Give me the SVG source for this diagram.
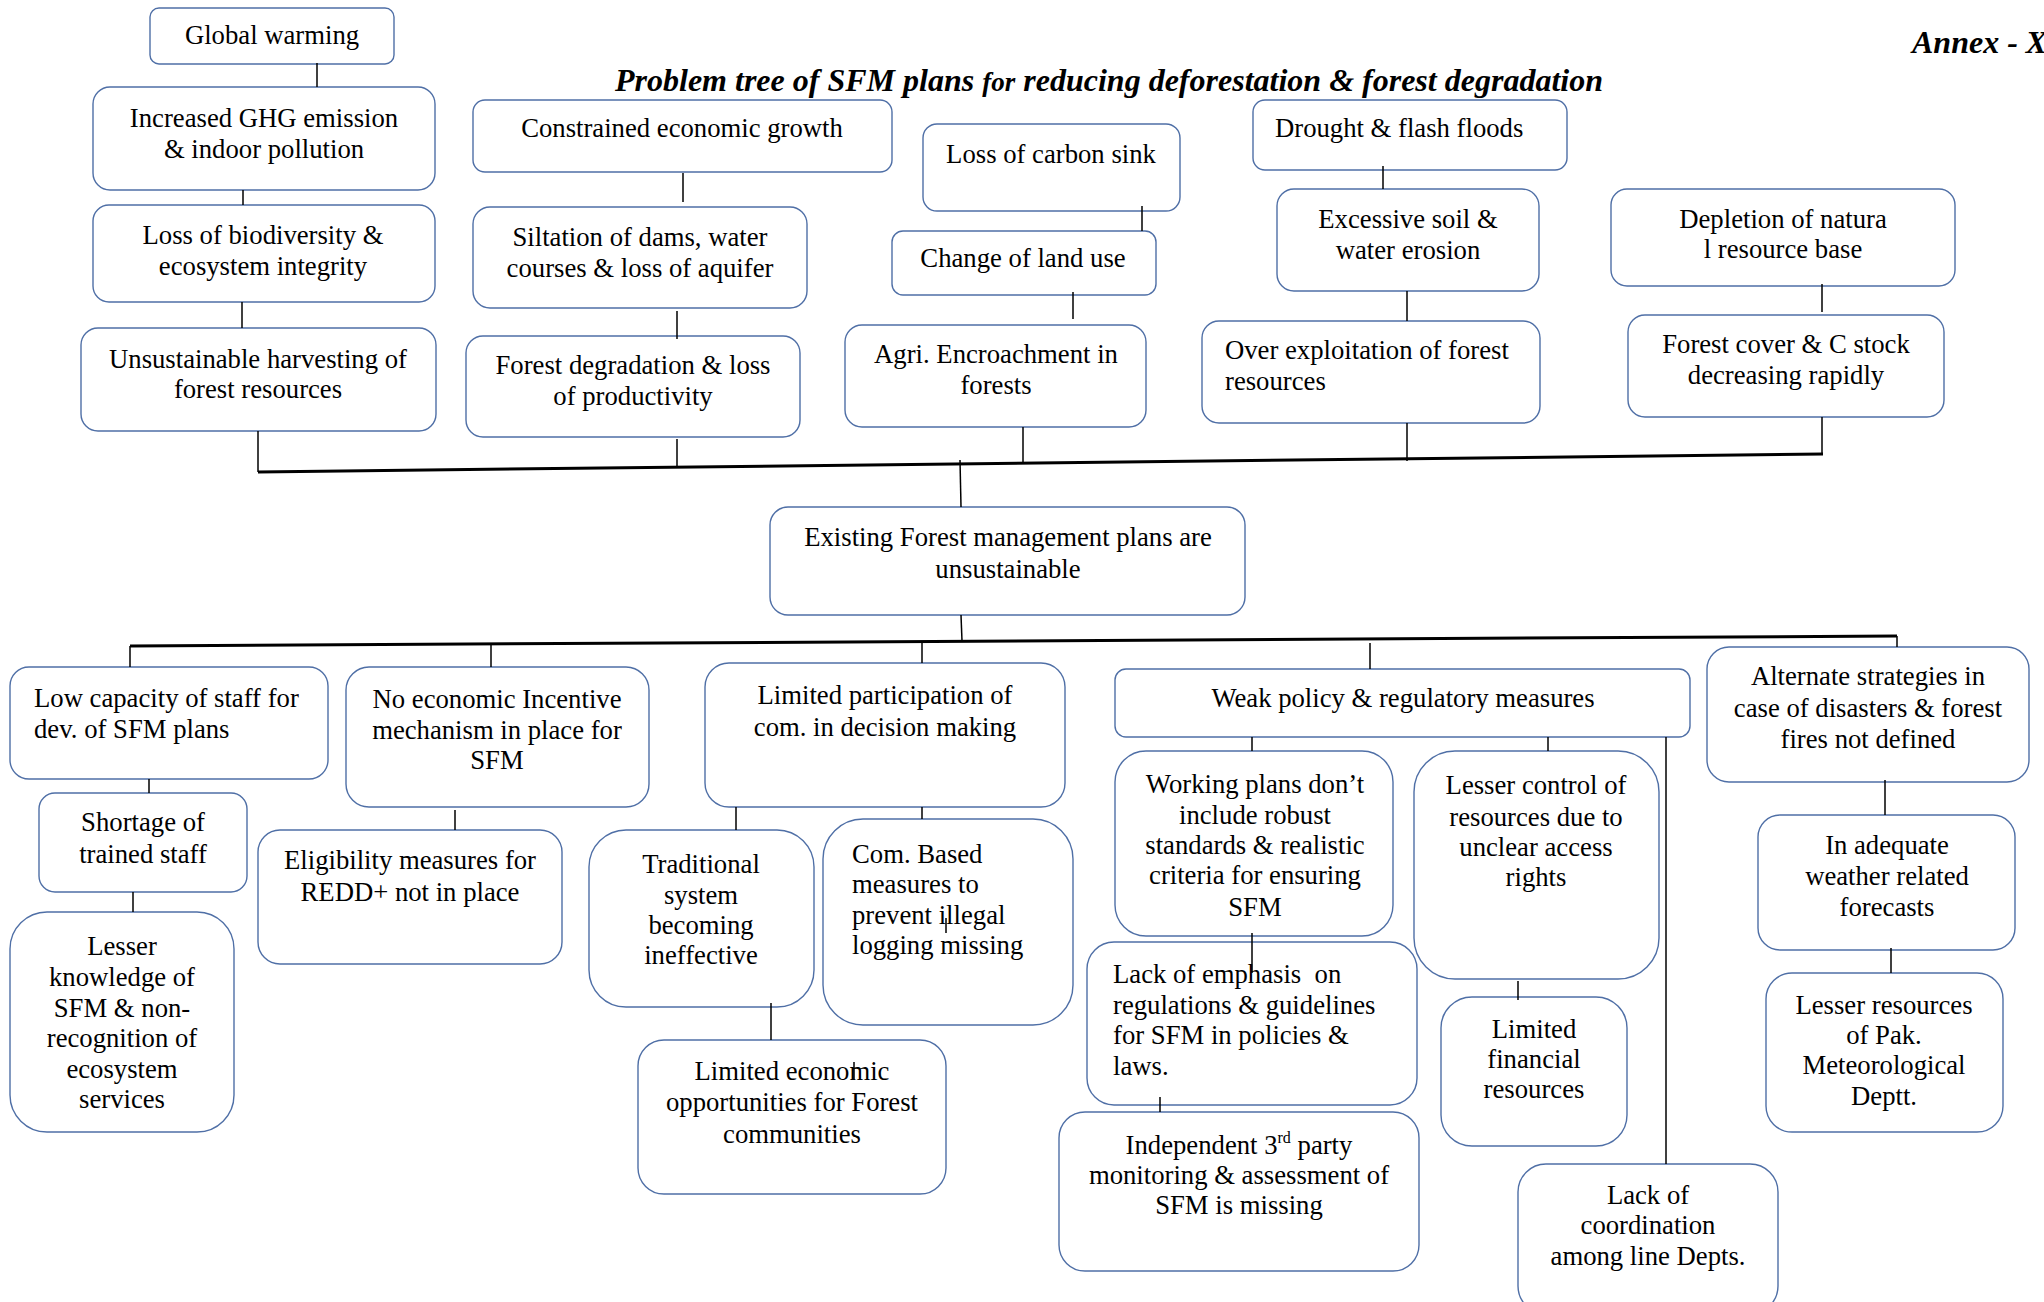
<svg xmlns="http://www.w3.org/2000/svg" width="2044" height="1302" viewBox="0 0 2044 1302">
  <style>
    .box { fill: #ffffff; stroke: #4f6fa6; stroke-width: 1.4; }
    .t { font-family: "Liberation Serif", "Times New Roman", serif; font-size: 26.7px; fill: #000000; }
    .c { text-anchor: middle; }
    .l { text-anchor: start; }
    .head { font-family: "Liberation Serif", "Times New Roman", serif; font-weight: bold; font-style: italic; fill: #000000; }
    .wire { stroke: #000000; stroke-width: 1.5; fill: none; }
    .bus { stroke: #000000; stroke-width: 3; fill: none; }
  </style>
  <rect width="2044" height="1302" fill="#ffffff"/>

  <text class="head" x="1912" y="53" font-size="32">Annex - X</text>
  <text class="head" x="615" y="91" font-size="32" textLength="988" lengthAdjust="spacingAndGlyphs">Problem tree of SFM plans <tspan font-size="27">for</tspan> reducing deforestation &amp; forest degradation</text>

  <!-- effects -->
  <g id="global-warming"><rect class="box" x="150" y="8" width="244" height="56" rx="9"/><text class="t c" x="272" y="44">Global warming</text></g>
  <g id="ghg-emission"><rect class="box" x="93" y="87" width="342" height="103" rx="17"/><text class="t c" x="264"><tspan x="264" y="127">Increased GHG emission</tspan><tspan x="264" y="158">&amp; indoor pollution</tspan></text></g>
  <g id="biodiversity-loss"><rect class="box" x="93" y="205" width="342" height="97" rx="16"/><text class="t c"><tspan x="263" y="244">Loss of biodiversity &amp;</tspan><tspan x="263" y="275">ecosystem integrity</tspan></text></g>
  <g id="unsustainable-harvesting"><rect class="box" x="81" y="328" width="355" height="103" rx="17"/><text class="t c"><tspan x="258" y="368">Unsustainable harvesting of</tspan><tspan x="258" y="398">forest resources</tspan></text></g>
  <g id="constrained-growth"><rect class="box" x="473" y="100" width="419" height="72" rx="12"/><text class="t c" x="682" y="137">Constrained economic growth</text></g>
  <g id="siltation"><rect class="box" x="473" y="207" width="334" height="101" rx="17"/><text class="t c"><tspan x="640" y="246">Siltation of dams, water</tspan><tspan x="640" y="277">courses &amp; loss of aquifer</tspan></text></g>
  <g id="forest-degradation"><rect class="box" x="466" y="336" width="334" height="101" rx="17"/><text class="t c"><tspan x="633" y="374">Forest degradation &amp; loss</tspan><tspan x="633" y="405">of productivity</tspan></text></g>
  <g id="carbon-sink"><rect class="box" x="923" y="124" width="257" height="87" rx="14"/><text class="t c" x="1051" y="163">Loss of carbon sink</text></g>
  <g id="land-use"><rect class="box" x="892" y="231" width="264" height="64" rx="11"/><text class="t c" x="1023" y="267">Change of land use</text></g>
  <g id="agri-encroachment"><rect class="box" x="845" y="325" width="301" height="102" rx="17"/><text class="t c"><tspan x="996" y="363">Agri. Encroachment in</tspan><tspan x="996" y="394">forests</tspan></text></g>
  <g id="drought"><rect class="box" x="1253" y="100" width="314" height="70" rx="12"/><text class="t l" x="1275" y="137">Drought &amp; flash floods</text></g>
  <g id="soil-erosion"><rect class="box" x="1277" y="189" width="262" height="102" rx="17"/><text class="t c"><tspan x="1408" y="228">Excessive soil &amp;</tspan><tspan x="1408" y="259">water erosion</tspan></text></g>
  <g id="over-exploitation"><rect class="box" x="1202" y="321" width="338" height="102" rx="17"/><text class="t l"><tspan x="1225" y="359">Over exploitation of forest</tspan><tspan x="1225" y="390">resources</tspan></text></g>
  <g id="resource-depletion"><rect class="box" x="1611" y="189" width="344" height="97" rx="16"/><text class="t c"><tspan x="1783" y="228">Depletion of natura</tspan><tspan x="1783" y="258">l resource base</tspan></text></g>
  <g id="forest-cover"><rect class="box" x="1628" y="315" width="316" height="102" rx="17"/><text class="t c"><tspan x="1786" y="353">Forest cover &amp; C stock</tspan><tspan x="1786" y="384">decreasing rapidly</tspan></text></g>

  <!-- core problem -->
  <g id="core-problem"><rect class="box" x="770" y="507" width="475" height="108" rx="18"/><text class="t c"><tspan x="1008" y="546">Existing Forest management plans are</tspan><tspan x="1008" y="578">unsustainable</tspan></text></g>

  <!-- causes -->
  <g id="low-capacity"><rect class="box" x="10" y="667" width="318" height="112" rx="19"/><text class="t l"><tspan x="34" y="707">Low capacity of staff for</tspan><tspan x="34" y="738">dev. of SFM plans</tspan></text></g>
  <g id="staff-shortage"><rect class="box" x="39" y="793" width="208" height="99" rx="16"/><text class="t c"><tspan x="143" y="831">Shortage of</tspan><tspan x="143" y="863">trained staff</tspan></text></g>
  <g id="lesser-knowledge"><rect class="box" x="10" y="912" width="224" height="220" rx="37"/><text class="t c"><tspan x="122" y="955">Lesser</tspan><tspan x="122" y="986">knowledge of</tspan><tspan x="122" y="1017">SFM &amp; non-</tspan><tspan x="122" y="1047">recognition of</tspan><tspan x="122" y="1078">ecosystem</tspan><tspan x="122" y="1108">services</tspan></text></g>
  <g id="no-incentive"><rect class="box" x="346" y="667" width="303" height="140" rx="23"/><text class="t c"><tspan x="497" y="708">No economic Incentive</tspan><tspan x="497" y="739">mechanism in place for</tspan><tspan x="497" y="769">SFM</tspan></text></g>
  <g id="redd-eligibility"><rect class="box" x="258" y="830" width="304" height="134" rx="22"/><text class="t c"><tspan x="410" y="869">Eligibility measures for</tspan><tspan x="410" y="901">REDD+ not in place</tspan></text></g>
  <g id="limited-participation"><rect class="box" x="705" y="663" width="360" height="144" rx="24"/><text class="t c"><tspan x="885" y="704">Limited participation of</tspan><tspan x="885" y="736">com. in decision making</tspan></text></g>
  <g id="traditional-system"><rect class="box" x="589" y="830" width="225" height="177" rx="37"/><text class="t c"><tspan x="701" y="873">Traditional</tspan><tspan x="701" y="904">system</tspan><tspan x="701" y="934">becoming</tspan><tspan x="701" y="964">ineffective</tspan></text></g>
  <g id="com-based-measures"><rect class="box" x="823" y="819" width="250" height="206" rx="40"/><text class="t l"><tspan x="852" y="863">Com. Based</tspan><tspan x="852" y="893">measures to</tspan><tspan x="852" y="924">prevent illegal</tspan><tspan x="852" y="954">logging missing</tspan></text></g>
  <g id="limited-economic"><rect class="box" x="638" y="1040" width="308" height="154" rx="26"/><text class="t c"><tspan x="792" y="1080">Limited economic</tspan><tspan x="792" y="1111">opportunities for Forest</tspan><tspan x="792" y="1143">communities</tspan></text></g>
  <g id="weak-policy"><rect class="box" x="1115" y="669" width="575" height="68" rx="11"/><text class="t c" x="1403" y="707">Weak policy &amp; regulatory measures</text></g>
  <g id="working-plans"><rect class="box" x="1115" y="751" width="278" height="185" rx="31"/><text class="t c"><tspan x="1255" y="793">Working plans don’t</tspan><tspan x="1255" y="824">include robust</tspan><tspan x="1255" y="854">standards &amp; realistic</tspan><tspan x="1255" y="884">criteria for ensuring</tspan><tspan x="1255" y="916">SFM</tspan></text></g>
  <g id="lesser-control"><rect class="box" x="1414" y="751" width="245" height="228" rx="41"/><text class="t c"><tspan x="1536" y="794">Lesser control of</tspan><tspan x="1536" y="826">resources due to</tspan><tspan x="1536" y="856">unclear access</tspan><tspan x="1536" y="886">rights</tspan></text></g>
  <g id="lack-emphasis"><rect class="box" x="1087" y="942" width="330" height="163" rx="27"/><text class="t l" xml:space="preserve"><tspan x="1113" y="983">Lack of emphasis  on</tspan><tspan x="1113" y="1014">regulations &amp; guidelines</tspan><tspan x="1113" y="1044">for SFM in policies &amp;</tspan><tspan x="1113" y="1075">laws.</tspan></text></g>
  <g id="independent-monitoring"><rect class="box" x="1059" y="1112" width="360" height="159" rx="26"/><text class="t c"><tspan x="1239" y="1154">Independent 3<tspan font-size="16" dy="-11">rd</tspan><tspan dy="11"> party</tspan></tspan><tspan x="1239" y="1184">monitoring &amp; assessment of</tspan><tspan x="1239" y="1214">SFM is missing</tspan></text></g>
  <g id="limited-financial"><rect class="box" x="1441" y="997" width="186" height="149" rx="31"/><text class="t c"><tspan x="1534" y="1038">Limited</tspan><tspan x="1534" y="1068">financial</tspan><tspan x="1534" y="1098">resources</tspan></text></g>
  <g id="lack-coordination"><rect class="box" x="1518" y="1164" width="260" height="150" rx="28"/><text class="t c"><tspan x="1648" y="1204">Lack of</tspan><tspan x="1648" y="1234">coordination</tspan><tspan x="1648" y="1265">among line Depts.</tspan></text></g>
  <g id="alternate-strategies"><rect class="box" x="1707" y="647" width="322" height="135" rx="22"/><text class="t c"><tspan x="1868" y="685">Alternate strategies in</tspan><tspan x="1868" y="717">case of disasters &amp; forest</tspan><tspan x="1868" y="748">fires not defined</tspan></text></g>
  <g id="weather-forecasts"><rect class="box" x="1758" y="815" width="257" height="135" rx="22"/><text class="t c"><tspan x="1887" y="854">In adequate</tspan><tspan x="1887" y="885">weather related</tspan><tspan x="1887" y="916">forecasts</tspan></text></g>
  <g id="pmd-resources"><rect class="box" x="1766" y="973" width="237" height="159" rx="26"/><text class="t c"><tspan x="1884" y="1014">Lesser resources</tspan><tspan x="1884" y="1044">of Pak.</tspan><tspan x="1884" y="1074">Meteorological</tspan><tspan x="1884" y="1105">Deptt.</tspan></text></g>

  <!-- connectors -->
  <g id="connectors">
    <line class="wire" x1="317" y1="63" x2="317" y2="87"/>
    <line class="wire" x1="243" y1="190" x2="243" y2="205"/>
    <line class="wire" x1="242" y1="302" x2="242" y2="328"/>
    <line class="wire" x1="258" y1="431" x2="258" y2="472"/>
    <line class="wire" x1="683" y1="173" x2="683" y2="202"/>
    <line class="wire" x1="677" y1="311" x2="677" y2="339"/>
    <line class="wire" x1="677" y1="439" x2="677" y2="467"/>
    <line class="wire" x1="1142" y1="206" x2="1142" y2="231"/>
    <line class="wire" x1="1073" y1="292" x2="1073" y2="319"/>
    <line class="wire" x1="1023" y1="427" x2="1023" y2="463"/>
    <line class="wire" x1="1383" y1="166" x2="1383" y2="189"/>
    <line class="wire" x1="1407" y1="291" x2="1407" y2="321"/>
    <line class="wire" x1="1407" y1="423" x2="1407" y2="461"/>
    <line class="wire" x1="1822" y1="284" x2="1822" y2="312"/>
    <line class="wire" x1="1822" y1="417" x2="1822" y2="455"/>
    <line class="bus" x1="258" y1="472" x2="1823" y2="454"/>
    <line class="wire" x1="960" y1="460" x2="961" y2="507"/>
    <line class="wire" x1="961" y1="615" x2="962" y2="641"/>
    <line class="bus" x1="130" y1="646" x2="1897" y2="636"/>
    <line class="wire" x1="130" y1="646" x2="130" y2="667"/>
    <line class="wire" x1="491" y1="644" x2="491" y2="667"/>
    <line class="wire" x1="922" y1="642" x2="922" y2="663"/>
    <line class="wire" x1="1370" y1="643" x2="1370" y2="669"/>
    <line class="wire" x1="1897" y1="636" x2="1897" y2="647"/>
    <line class="wire" x1="149" y1="779" x2="149" y2="793"/>
    <line class="wire" x1="133" y1="892" x2="133" y2="912"/>
    <line class="wire" x1="455" y1="810" x2="455" y2="830"/>
    <line class="wire" x1="736" y1="807" x2="736" y2="830"/>
    <line class="wire" x1="922" y1="807" x2="922" y2="819"/>
    <line class="wire" x1="771" y1="1003" x2="771" y2="1040"/>
    <line class="wire" x1="946" y1="918" x2="946" y2="933"/>
    <line class="wire" x1="854" y1="1062" x2="854" y2="1080"/>
    <line class="wire" x1="1252" y1="737" x2="1252" y2="751"/>
    <line class="wire" x1="1548" y1="737" x2="1548" y2="751"/>
    <line class="wire" x1="1666" y1="737" x2="1666" y2="1164"/>
    <line class="wire" x1="1252" y1="933" x2="1252" y2="973"/>
    <line class="wire" x1="1160" y1="1097" x2="1160" y2="1112"/>
    <line class="wire" x1="1518" y1="981" x2="1518" y2="1000"/>
    <line class="wire" x1="1885" y1="780" x2="1885" y2="815"/>
    <line class="wire" x1="1891" y1="948" x2="1891" y2="973"/>
  </g>
</svg>
